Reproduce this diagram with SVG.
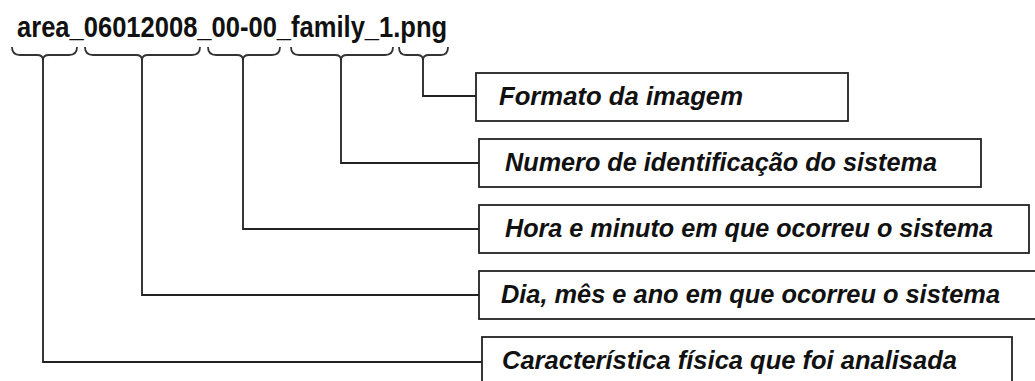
<svg xmlns="http://www.w3.org/2000/svg" width="1035" height="381" viewBox="0 0 1035 381">
<style>
.hdr{font-family:"Liberation Sans",Arial,sans-serif;font-weight:bold;font-size:29px;fill:#111}
.box{fill:#fff;stroke:#222;stroke-width:1.8}
.lbl{font-family:"Liberation Sans",Arial,sans-serif;font-weight:bold;font-style:italic;font-size:25px;fill:#111}
.ln{fill:none;stroke:#222;stroke-width:1.8}
.br{fill:none;stroke:#333;stroke-width:1.8}
</style>
<rect width="1035" height="381" fill="#fff"/>
<g id="filename">
<text class="hdr" transform="translate(17,37) scale(0.881,1)" x="0" y="0">area_06012008_00-00_family_1.png</text>
</g>
<g id="braces">
<path class="br" d="M12,47 Q12,55 20,55 L37,55 Q43,55 43,60 Q43,55 49,55 L69,55 Q77,55 77,47"/>
<path class="br" d="M85,47 Q85,55 93,55 L136,55 Q142,55 142,60 Q142,55 148,55 L192,55 Q200,55 200,47"/>
<path class="br" d="M208,47 Q208,55 216,55 L237,55 Q243,55 243,60 Q243,55 249,55 L272,55 Q280,55 280,47"/>
<path class="br" d="M291,47 Q291,55 299,55 L335,55 Q341,55 341,60 Q341,55 347,55 L385,55 Q393,55 393,47"/>
<path class="br" d="M399,47 Q399,55 406,55 L417,55 Q423,55 423,60 Q423,55 429,55 L441,55 Q448,55 448,47"/>
</g>
<g id="connectors">
<polyline class="ln" points="423,59 423,96 476,96"/>
<polyline class="ln" points="341,59 341,163 479,163"/>
<polyline class="ln" points="243,59 243,229 479,229"/>
<polyline class="ln" points="142,59 142,295 479,295"/>
<polyline class="ln" points="43,59 43,362 482,362"/>
</g>
<g id="formato">
<rect class="box" x="476" y="73" width="372" height="48"/>
<text class="lbl" x="499" y="105" textLength="244" lengthAdjust="spacingAndGlyphs">Formato da imagem</text>
</g>
<g id="numero">
<rect class="box" x="479" y="139" width="502" height="48"/>
<text class="lbl" x="505" y="171" textLength="432" lengthAdjust="spacingAndGlyphs">Numero de identificação do sistema</text>
</g>
<g id="hora">
<rect class="box" x="479" y="205" width="550" height="48"/>
<text class="lbl" x="505" y="237" textLength="488" lengthAdjust="spacingAndGlyphs">Hora e minuto em que ocorreu o sistema</text>
</g>
<g id="dia">
<rect class="box" x="479" y="271" width="570" height="48"/>
<text class="lbl" x="501" y="303" textLength="499" lengthAdjust="spacingAndGlyphs">Dia, mês e ano em que ocorreu o sistema</text>
</g>
<g id="caracteristica">
<rect class="box" x="482" y="337" width="530" height="60"/>
<text class="lbl" x="502" y="369" textLength="455" lengthAdjust="spacingAndGlyphs">Característica física que foi analisada</text>
</g>
</svg>
